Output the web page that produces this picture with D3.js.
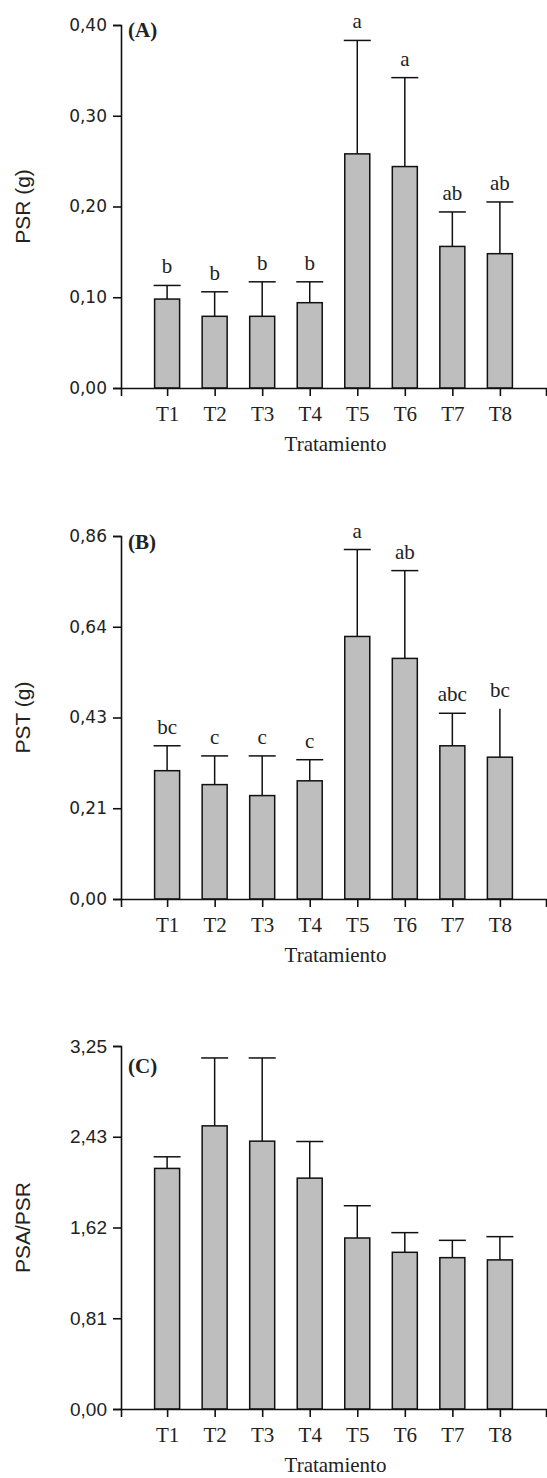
<!DOCTYPE html>
<html>
<head>
<meta charset="utf-8">
<script src="https://cdn.jsdelivr.net/npm/d3@7"></script>
<style>
  body { margin: 0; background: #fff; }
  svg { display: block; }
</style>
</head>
<body>
<div id="chart"></div>
<script>
// data
var categories = ["T1", "T2", "T3", "T4", "T5", "T6", "T7", "T8"];

var psrMean = [0.098, 0.079, 0.079, 0.094, 0.258, 0.244, 0.156, 0.148];
var psrErr = [0.015, 0.027, 0.038, 0.023, 0.125, 0.098, 0.038, 0.057];
var psrLetters = ["b", "b", "b", "b", "a", "a", "ab", "ab"];
var psrTicks = [0, 0.1, 0.2, 0.3, 0.4];
var psrTickLabels = ["0,00", "0,10", "0,20", "0,30", "0,40"];

var pstMean = [0.304, 0.271, 0.245, 0.280, 0.622, 0.570, 0.363, 0.336];
var pstErr = [0.059, 0.068, 0.094, 0.050, 0.206, 0.208, 0.077, 0.115];
var pstLetters = ["bc", "c", "c", "c", "a", "ab", "abc", "bc"];
var pstTicks = [0, 0.215, 0.43, 0.645, 0.86];
var pstTickLabels = ["0,00", "0,21", "0,43", "0,64", "0,86"];
var pstNoCap = ["T8"];

var ratioMean = [2.154, 2.535, 2.398, 2.067, 1.531, 1.403, 1.355, 1.335];
var ratioErr = [0.104, 0.608, 0.745, 0.328, 0.289, 0.176, 0.155, 0.208];
var ratioTicks = [0, 0.8125, 1.625, 2.4375, 3.25];
var ratioTickLabels = ["0,00", "0,81", "1,62", "2,43", "3,25"];

var svgWidth = 547, svgHeight = 1478;
var axisLeft = 121, axisRight = 546, barWidth = 25;

var svg = d3.select("#chart").append("svg")
    .attr("width", svgWidth)
    .attr("height", svgHeight);

function drawPanel(p) {
    var g = svg.append("g");

    var x = d3.scalePoint()
        .domain(categories)
        .range([axisLeft, axisRight])
        .padding(0.97);

    var y = d3.scaleLinear()
        .domain([0, p.ticks[p.ticks.length - 1]])
        .range([p.bottom, p.top]);

    var rows = categories.map(function(c, i) {
        return { cat: c, mean: p.mean[i], err: p.err[i], letter: p.letters ? p.letters[i] : "" };
    });

    // bars
    g.selectAll("rect")
        .data(rows)
        .enter()
        .append("rect")
        .attr("x", function(d) { return x(d.cat) - barWidth / 2; })
        .attr("y", function(d) { return y(d.mean); })
        .attr("width", barWidth)
        .attr("height", function(d) { return y(0) - y(d.mean); })
        .attr("fill", "#bebebe")
        .attr("stroke", "#111")
        .attr("stroke-width", 1.5);

    // error bars (upper only)
    g.selectAll("line.err")
        .data(rows)
        .enter()
        .append("line")
        .attr("class", "err")
        .attr("x1", function(d) { return x(d.cat); })
        .attr("x2", function(d) { return x(d.cat); })
        .attr("y1", function(d) { return y(d.mean); })
        .attr("y2", function(d) { return y(d.mean + d.err); })
        .attr("stroke", "#111")
        .attr("stroke-width", 1.5);

    g.selectAll("line.cap")
        .data(rows.filter(function(d) { return !(p.noCap && p.noCap.indexOf(d.cat) >= 0); }))
        .enter()
        .append("line")
        .attr("class", "cap")
        .attr("x1", function(d) { return x(d.cat) - barWidth / 2 - 1; })
        .attr("x2", function(d) { return x(d.cat) + barWidth / 2 + 1; })
        .attr("y1", function(d) { return y(d.mean + d.err); })
        .attr("y2", function(d) { return y(d.mean + d.err); })
        .attr("stroke", "#111")
        .attr("stroke-width", 1.5);

    // significance letters
    if (p.letters) {
        g.selectAll("text.letter")
            .data(rows)
            .enter()
            .append("text")
            .attr("class", "letter")
            .attr("x", function(d) { return x(d.cat); })
            .attr("y", function(d) { return y(d.mean + d.err) - 12; })
            .attr("text-anchor", "middle")
            .attr("font-family", "Liberation Serif, Times New Roman, serif")
            .attr("font-size", 21)
            .attr("fill", "#222")
            .text(function(d) { return d.letter; });
    }

    // axes
    var yAxis = d3.axisLeft(y)
        .tickValues(p.ticks)
        .tickFormat(function(d, i) { return p.tickLabels[i]; })
        .tickSize(8)
        .tickSizeOuter(8)
        .tickPadding(6);

    var gy = g.append("g")
        .attr("transform", "translate(" + axisLeft + ",0)")
        .call(yAxis);
    gy.selectAll("text")
        .attr("font-family", p.tickFont)
        .attr("font-size", p.tickSize)
        .attr("fill", "#222");

    var xAxis = d3.axisBottom(x)
        .tickSize(8)
        .tickSizeOuter(8)
        .tickPadding(10);

    var gx = g.append("g")
        .attr("transform", "translate(0," + p.bottom + ")")
        .call(xAxis);
    gx.selectAll("text")
        .attr("font-family", "Liberation Serif, Times New Roman, serif")
        .attr("font-size", 21)
        .attr("fill", "#222");

    g.selectAll(".domain, .tick line")
        .attr("stroke", "#111")
        .attr("stroke-width", 1.6);

    // titles
    g.append("text")
        .attr("x", (axisLeft + axisRight) / 2 + 2)
        .attr("y", p.bottom + 63)
        .attr("text-anchor", "middle")
        .attr("font-family", "Liberation Serif, Times New Roman, serif")
        .attr("font-size", 21)
        .attr("fill", "#222")
        .text("Tratamiento");

    g.append("text")
        .attr("transform", "translate(30," + ((p.top + p.bottom) / 2) + ") rotate(-90)")
        .attr("text-anchor", "middle")
        .attr("font-family", "Liberation Sans, Arial, sans-serif")
        .attr("font-size", 21)
        .attr("fill", "#222")
        .text(p.title);

    g.append("text")
        .attr("x", axisLeft + 7)
        .attr("y", p.top + p.labelDy)
        .attr("font-family", "Liberation Serif, Times New Roman, serif")
        .attr("font-weight", "bold")
        .attr("font-size", 21)
        .attr("fill", "#222")
        .text(p.label);
}

drawPanel({ top: 25, bottom: 388, mean: psrMean, err: psrErr, letters: psrLetters,
    ticks: psrTicks, tickLabels: psrTickLabels, title: "PSR (g)", label: "(A)", labelDy: 12,
    tickFont: "DejaVu Sans, Verdana, sans-serif", tickSize: 17 });

drawPanel({ top: 536, bottom: 899, mean: pstMean, err: pstErr, letters: pstLetters, noCap: pstNoCap,
    ticks: pstTicks, tickLabels: pstTickLabels, title: "PST (g)", label: "(B)", labelDy: 13,
    tickFont: "DejaVu Sans, Verdana, sans-serif", tickSize: 17 });

drawPanel({ top: 1046, bottom: 1409, mean: ratioMean, err: ratioErr, letters: null,
    ticks: ratioTicks, tickLabels: ratioTickLabels, title: "PSA/PSR", label: "(C)", labelDy: 27,
    tickFont: "Liberation Sans, Arial, sans-serif", tickSize: 19 });
</script>
</body>
</html>
